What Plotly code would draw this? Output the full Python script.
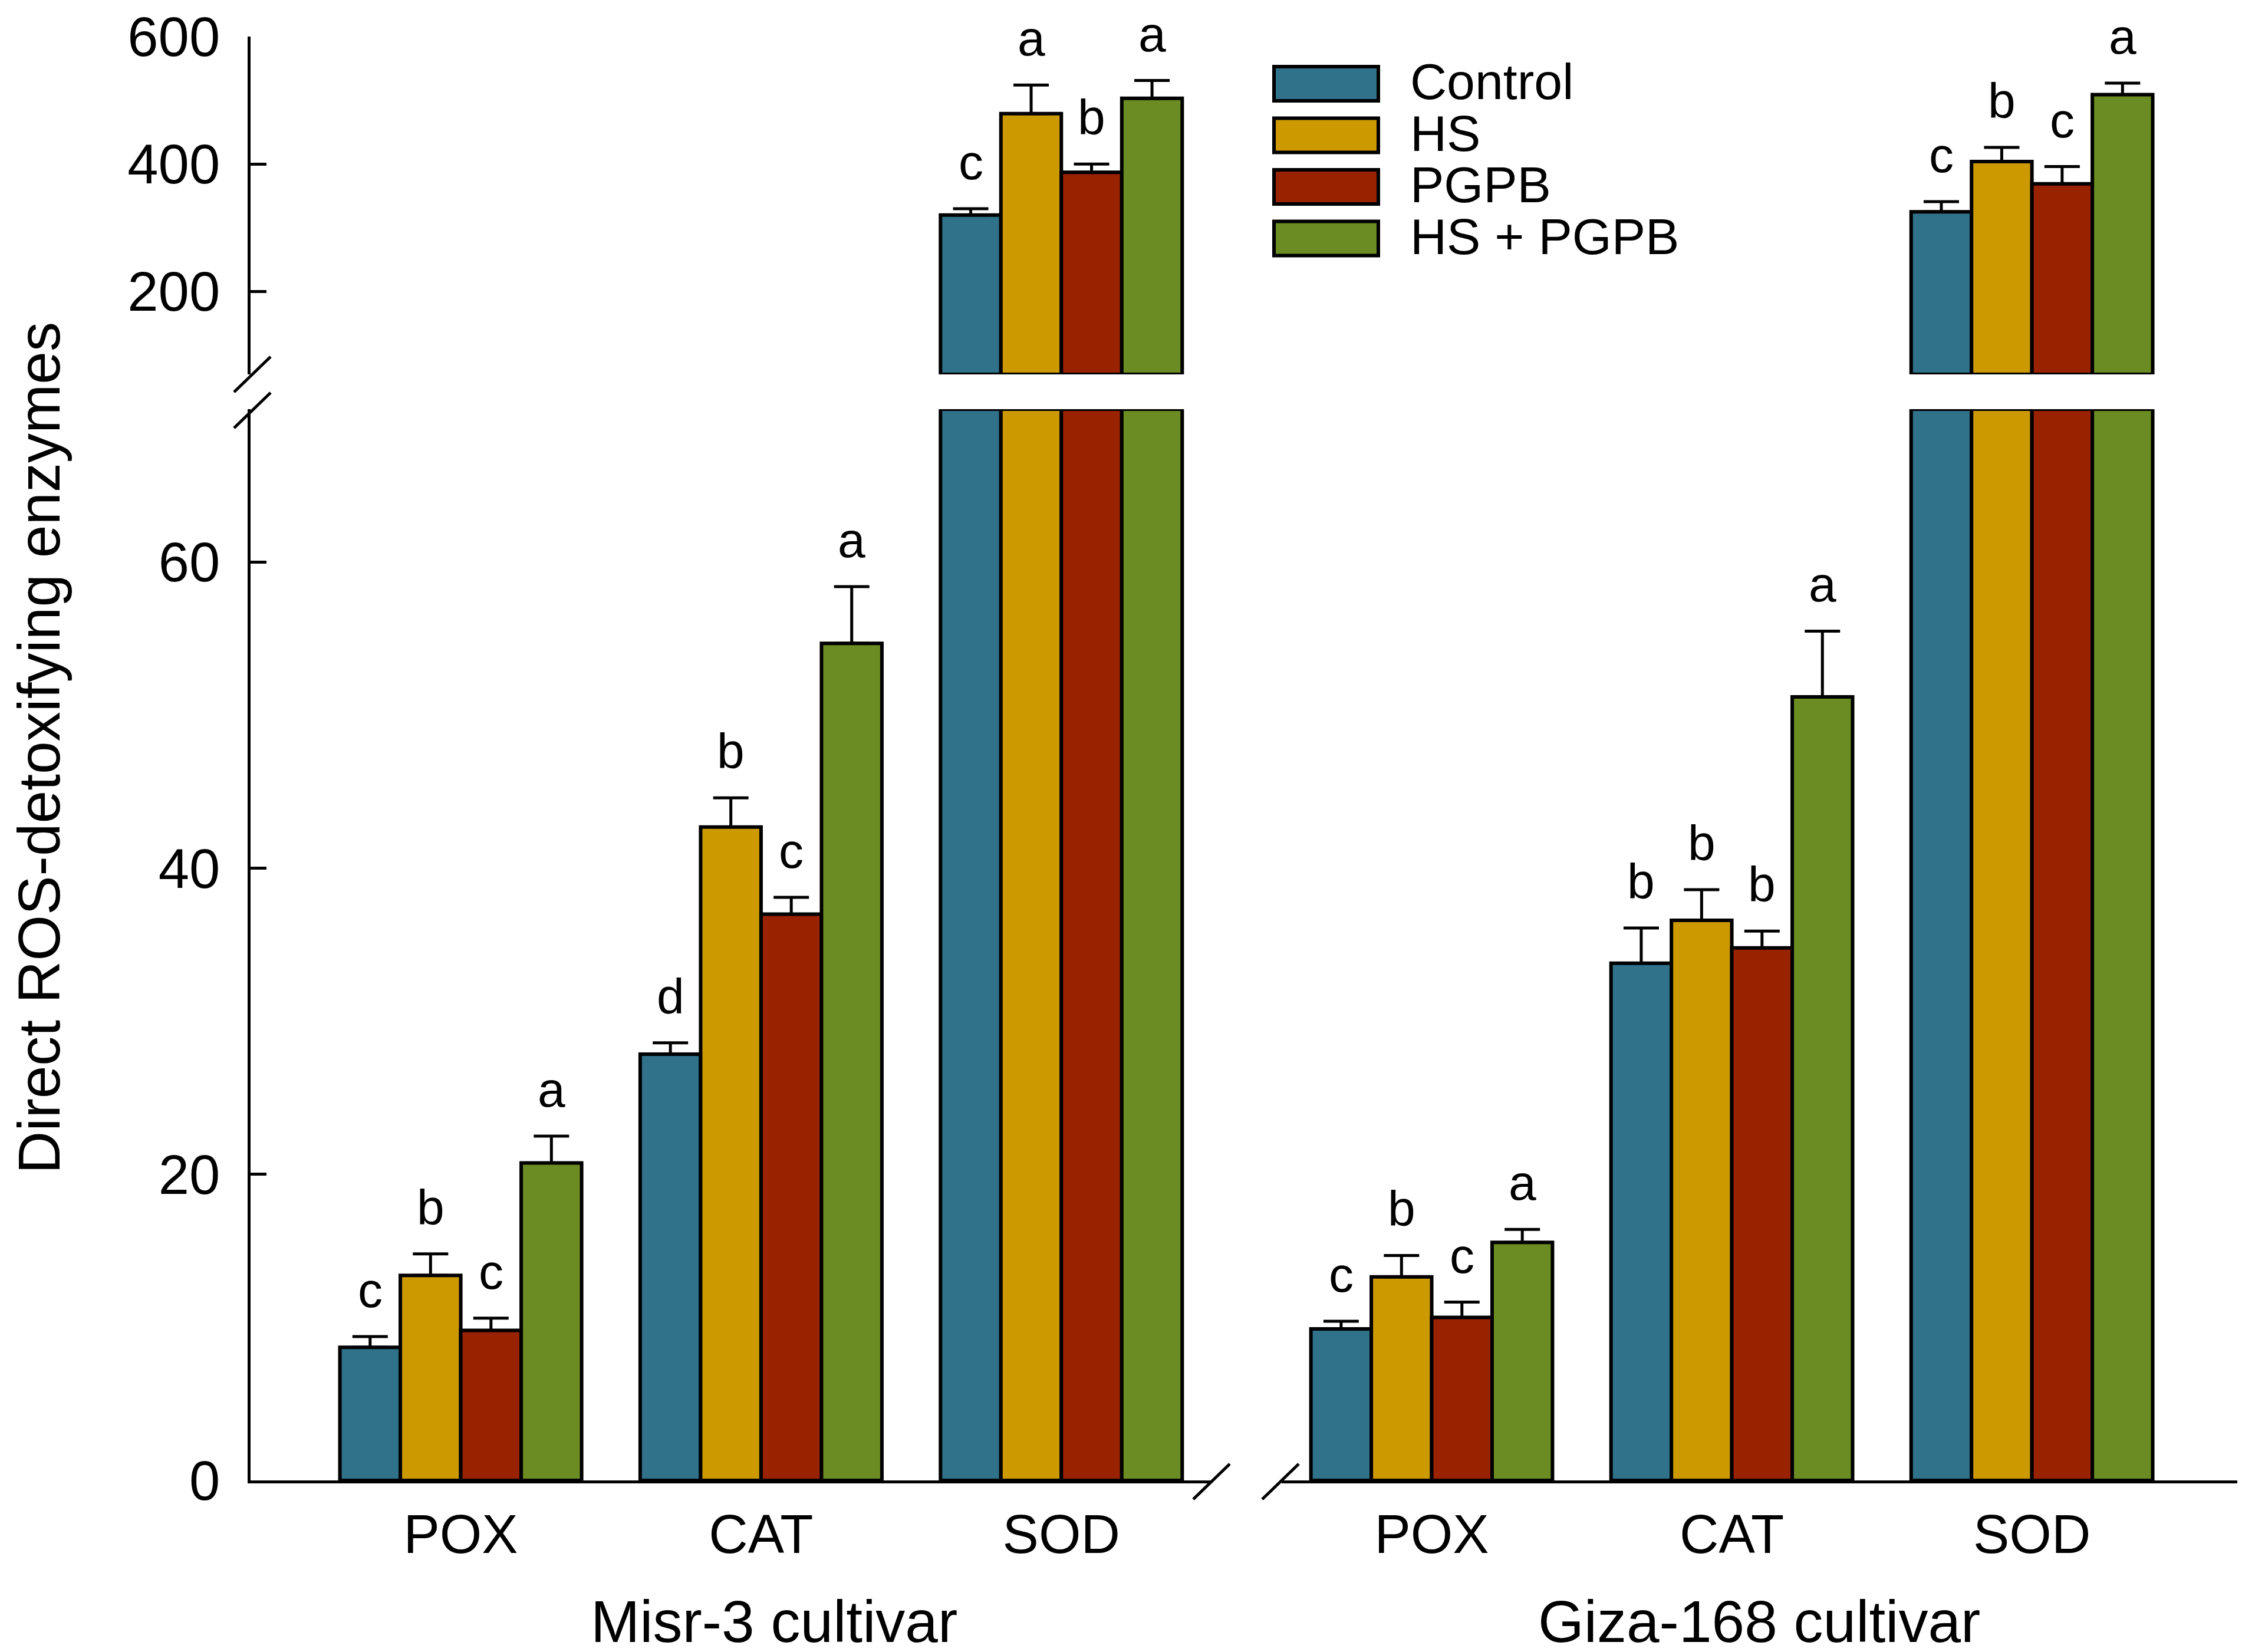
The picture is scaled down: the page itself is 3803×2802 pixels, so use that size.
import plotly.graph_objects as go

# Data
enzymes = ["POX", "CAT", "SOD"]
treatments = ["Control", "HS", "PGPB", "HS + PGPB"]
colors = ["#2F728A", "#CC9A00", "#992200", "#6B8B23"]

misr_control = [8.7, 27.85, 320]
misr_hs = [13.4, 42.7, 479]
misr_pgpb = [9.8, 37.0, 387]
misr_hs_pgpb = [20.75, 54.7, 503]
misr_control_se = [0.7, 0.75, 10]
misr_hs_se = [1.4, 1.9, 45]
misr_pgpb_se = [0.8, 1.1, 13]
misr_hs_pgpb_se = [1.75, 3.7, 28]
misr_control_sig = ["c", "d", "c"]
misr_hs_sig = ["b", "b", "a"]
misr_pgpb_sig = ["c", "c", "b"]
misr_hs_pgpb_sig = ["a", "a", "a"]

giza_control = [9.9, 33.8, 325]
giza_hs = [13.3, 36.6, 404]
giza_pgpb = [10.65, 34.8, 369]
giza_hs_pgpb = [15.55, 51.2, 509]
giza_control_se = [0.5, 2.3, 16]
giza_hs_se = [1.4, 2.0, 22]
giza_pgpb_se = [1.0, 1.1, 27]
giza_hs_pgpb_se = [0.85, 4.3, 18]
giza_control_sig = ["c", "b", "c"]
giza_hs_sig = ["b", "b", "b"]
giza_pgpb_sig = ["c", "b", "c"]
giza_hs_pgpb_sig = ["a", "a", "a"]

cultivars = ["Misr-3 cultivar", "Giza-168 cultivar"]

FONT = "Liberation Sans, Arial, sans-serif"
W, H = 3803, 2802
L, R, T, B = 417, 8, 54, 299
PW, PH = W - L - R, H - T - B
BREAK = 70  # axis break value
BARGAP = 0.195


def px(x):
    return (x - L) / PW


def py(y):
    return (H - B - y) / PH


series = [
    ("x", [misr_control, misr_hs, misr_pgpb, misr_hs_pgpb],
     [misr_control_se, misr_hs_se, misr_pgpb_se, misr_hs_pgpb_se],
     [misr_control_sig, misr_hs_sig, misr_pgpb_sig, misr_hs_pgpb_sig]),
    ("x2", [giza_control, giza_hs, giza_pgpb, giza_hs_pgpb],
     [giza_control_se, giza_hs_se, giza_pgpb_se, giza_hs_pgpb_se],
     [giza_control_sig, giza_hs_sig, giza_pgpb_sig, giza_hs_pgpb_sig]),
]

pos = list(range(len(enzymes)))
fig = go.Figure()
annotations = []
shapes = []
bw = (1 - BARGAP) / len(treatments)

for xa, vals, errs, sigs in series:
    for ya in ["y", "y2"]:
        for j, name in enumerate(treatments):
            fig.add_trace(go.Bar(
                x=pos, y=vals[j], name=name, xaxis=xa, yaxis=ya,
                marker=dict(color=colors[j], line=dict(color="black", width=6)),
                error_y=dict(type="data", array=errs[j], arrayminus=[0] * len(pos),
                             symmetric=False, color="black", thickness=5, width=30),
                showlegend=False,
            ))
    # significance letters
    for j in range(len(treatments)):
        for i in pos:
            top = vals[j][i] + errs[j][i]
            annotations.append(dict(
                x=i + (j - 1.5) * bw, y=top, xref=xa,
                yref="y2" if top > BREAK else "y",
                text=sigs[j][i], showarrow=False, yanchor="bottom", yshift=30,
                font=dict(family=FONT, size=84, color="black"),
            ))
    # edges of the broken bars at the break
    for yr in ["y", "y2"]:
        shapes.append(dict(type="line", xref=xa, yref=yr,
                           x0=2 - (1 - BARGAP) / 2, x1=2 + (1 - BARGAP) / 2,
                           y0=BREAK, y1=BREAK, line=dict(color="black", width=6)))

fig.update_layout(
    width=W, height=H,
    margin=dict(l=L, r=R, t=T, b=B, autoexpand=False),
    paper_bgcolor="white", plot_bgcolor="white",
    barmode="group", bargap=BARGAP, bargroupgap=0,
    font=dict(family=FONT, size=94, color="black"),
    showlegend=False,
)

xcommon = dict(showgrid=False, zeroline=False, showline=True, linecolor="black",
               linewidth=5, ticks="", tickvals=pos, ticktext=enzymes, automargin=False,
               tickfont=dict(family=FONT, size=92), ticklabelstandoff=8)
fig.update_layout(
    xaxis=dict(domain=[0, px(2047)], range=[-0.70, 2.50], anchor="y", **xcommon),
    xaxis2=dict(domain=[px(2166), 1], range=[-0.50, 2.70], anchor="y", **xcommon),
)

ycommon = dict(showgrid=False, zeroline=False, showline=True, linecolor="black",
               linewidth=5, ticks="inside", ticklen=27, tickwidth=5, tickcolor="black",
               tickfont=dict(family=FONT, size=94), anchor="x", ticklabelstandoff=28,
               ticklabeloverflow="allow", automargin=False)
fig.update_layout(
    yaxis=dict(domain=[0, py(686)], range=[0, BREAK], tickvals=[0, 20, 40, 60], **ycommon),
    yaxis2=dict(domain=[py(627), 1], range=[BREAK, 600], tickvals=[200, 400, 600], **ycommon),
)

# axis break marks
for cx, cy in [(420, 627), (420, 688), (2047, 2505), (2164, 2505)]:
    shapes.append(dict(type="line", xref="paper", yref="paper",
                       x0=px(cx - 31), y0=py(cy + 30), x1=px(cx + 31), y1=py(cy - 30),
                       line=dict(color="black", width=5)))

# legend drawn by hand so the swatches match the original size
for j, name in enumerate(treatments):
    cy = 134 + j * 87.5
    shapes.append(dict(type="rect", xref="paper", yref="paper",
                       x0=px(2153), x1=px(2330), y0=py(cy + 29), y1=py(cy - 29),
                       fillcolor=colors[j], line=dict(color="black", width=6)))
    annotations.append(dict(x=px(2382), y=py(cy - 4), xref="paper", yref="paper",
                            text=name, showarrow=False, xanchor="left", yanchor="middle",
                            font=dict(family=FONT, size=86, color="black")))

# axis titles
annotations.append(dict(x=px(58), y=py(1261), xref="paper", yref="paper",
                        text="Direct ROS-detoxifying enzymes", textangle=-90,
                        showarrow=False, xanchor="center", yanchor="middle",
                        font=dict(family=FONT, size=100, color="black")))
for cx, label in zip([1305, 2976], cultivars):
    annotations.append(dict(x=px(cx), y=py(2742), xref="paper", yref="paper",
                            text=label, showarrow=False, xanchor="center", yanchor="middle",
                            font=dict(family=FONT, size=100, color="black")))

fig.update_layout(annotations=annotations, shapes=shapes)

fig.write_html("out.html")
